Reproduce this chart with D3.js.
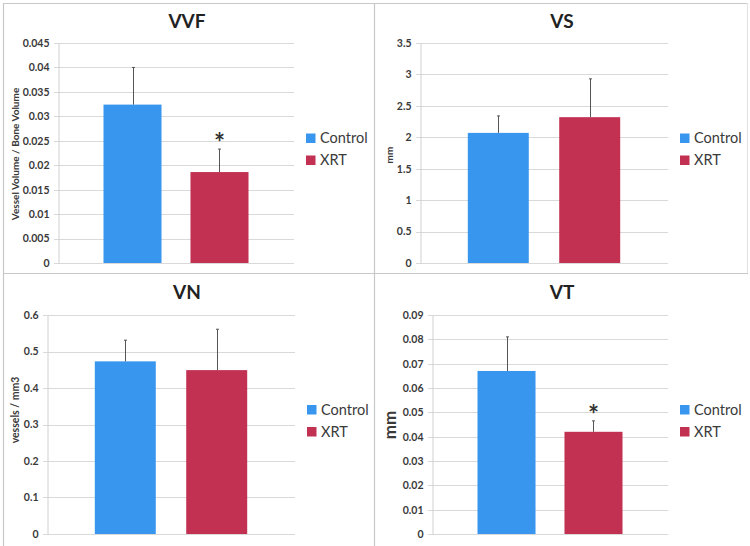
<!DOCTYPE html>
<html><head><meta charset="utf-8">
<script src="https://cdn.jsdelivr.net/npm/d3@7"></script>
<style>
html,body{margin:0;padding:0;background:#fff;}
svg{display:block;font-family:Lato,"Open Sans",sans-serif;}
</style></head>
<body>
<svg id="c" width="750" height="546"></svg>
<script>
// ---- data ----
const panelTitles = ["VVF", "VS", "VN", "VT"];
const groups = ["Control", "XRT"];
const controlMeans = [0.0324, 2.07, 0.473, 0.067];
const controlErrors = [0.0076, 0.27, 0.058, 0.014];
const xrtMeans = [0.0186, 2.32, 0.449, 0.042];
const xrtErrors = [0.0047, 0.61, 0.112, 0.0045];
const xrtSignificant = [true, false, false, true];
const yMaxes = [0.045, 3.5, 0.6, 0.09];
const yTickSteps = [0.005, 0.5, 0.1, 0.01];
const yTitles = ["Vessel Volume / Bone Volume", "mm", "vessels / mm3", "mm"];

// ---- layout ----
const colors = {Control: "#3896EE", XRT: "#C23152"};
const layouts = [
  {ox: 0,   oy: 0,   left: 58,  right: 294, top: 43,  bottom: 263, titleY: 28,  yTitleX: 15,  yTitleY: 154, yTitleSize: 10},
  {ox: 375, oy: 0,   left: 45,  right: 293, top: 43,  bottom: 263, titleY: 28,  yTitleX: 14,  yTitleY: 155, yTitleSize: 10},
  {ox: 0,   oy: 273, left: 47,  right: 295, top: 42,  bottom: 261, titleY: 26,  yTitleX: 15,  yTitleY: 137, yTitleSize: 10.5},
  {ox: 375, oy: 273, left: 57,  right: 293, top: 42,  bottom: 261, titleY: 26,  yTitleX: 14,  yTitleY: 152, yTitleSize: 17}
];

const svg = d3.select("#c");
const textColor = "#3a3a3a";

// frame
const frame = svg.append("g").attr("stroke", "#c8c8c8").attr("stroke-width", 1.2).attr("fill", "none");
frame.append("line").attr("x1", 3).attr("x2", 748).attr("y1", 3.5).attr("y2", 3.5);
frame.append("line").attr("x1", 3.5).attr("x2", 3.5).attr("y1", 3).attr("y2", 546);
frame.append("line").attr("x1", 374.5).attr("x2", 374.5).attr("y1", 3).attr("y2", 546);
frame.append("line").attr("x1", 3).attr("x2", 748).attr("y1", 273.5).attr("y2", 273.5);
frame.append("line").attr("x1", 747.5).attr("x2", 747.5).attr("y1", 3).attr("y2", 273).attr("stroke", "#e4e4e4");

panelTitles.forEach((title, i) => {
  const L = layouts[i];
  const g = svg.append("g").attr("transform", `translate(${L.ox},${L.oy})`);
  const y = d3.scaleLinear().domain([0, yMaxes[i]]).range([L.bottom, L.top]);
  const x = d3.scaleBand().domain(groups).range([L.left, L.right]).paddingInner(0.333).paddingOuter(0.523);
  const step = yTickSteps[i];
  const n = Math.round(yMaxes[i] / step);
  const ticks = d3.range(0, n + 1).map(k => +(k * step).toFixed(6));

  // gridlines
  g.append("g").selectAll("line").data(ticks).join("line")
    .attr("x1", L.left - 4).attr("x2", L.right)
    .attr("y1", d => Math.round(y(d)) + 0.5).attr("y2", d => Math.round(y(d)) + 0.5)
    .attr("stroke", "#d9d9d9").attr("stroke-width", 1);

  // y axis
  const axis = g.append("g").attr("transform", `translate(${L.left + 0.5},0)`)
    .call(d3.axisLeft(y).tickValues(ticks).tickFormat(d3.format("~g")).tickSize(0).tickPadding(9));
  axis.select(".domain").attr("stroke", "#d0d0d0");
  axis.selectAll("text").attr("fill", textColor).attr("font-size", 10.5).attr("font-weight", 700)
    .attr("font-family", "Lato, 'Open Sans', sans-serif");

  // bars
  const means = [controlMeans[i], xrtMeans[i]];
  const errs = [controlErrors[i], xrtErrors[i]];
  const data = groups.map((gname, k) => ({g: gname, v: means[k], e: errs[k]}));
  g.append("g").selectAll("rect").data(data).join("rect")
    .attr("x", d => x(d.g)).attr("width", x.bandwidth())
    .attr("y", d => y(d.v)).attr("height", d => y(0) - y(d.v))
    .attr("fill", d => colors[d.g]);

  // error bars
  const eb = g.append("g").attr("stroke", "#555").attr("stroke-width", 1);
  data.forEach(d => {
    const cx = Math.round(x(d.g) + x.bandwidth() / 2) + 0.5;
    eb.append("line").attr("x1", cx).attr("x2", cx).attr("y1", y(d.v)).attr("y2", y(d.v + d.e));
    eb.append("line").attr("x1", cx - 1.5).attr("x2", cx + 1.5).attr("y1", y(d.v + d.e)).attr("y2", y(d.v + d.e));
  });

  // significance asterisk
  if (xrtSignificant[i]) {
    const d = data[1];
    g.append("text").attr("x", x(d.g) + x.bandwidth() / 2).attr("y", y(d.v + d.e) + 3)
      .attr("text-anchor", "middle").attr("font-size", 26).attr("font-weight", 700)
      .attr("fill", "#333").text("*");
  }

  // title
  g.append("text").attr("x", 187).attr("y", L.titleY).attr("text-anchor", "middle")
    .attr("font-size", 19).attr("font-weight", 700).attr("fill", "#222").text(title);

  // y-axis title
  g.append("text").attr("transform", `translate(${L.yTitleX},${L.yTitleY}) rotate(-90)`)
    .attr("text-anchor", "middle").attr("dominant-baseline", "central")
    .attr("font-size", L.yTitleSize).attr("font-weight", 700).attr("fill", textColor).text(yTitles[i]);

  // legend
  const mid = (L.top + L.bottom) / 2;
  const lg = g.append("g").attr("transform", `translate(${L.right + 12},${mid - 15})`);
  groups.forEach((gname, k) => {
    lg.append("rect").attr("x", 0).attr("y", k * 22 - 4.5).attr("width", 9.5).attr("height", 9.5).attr("fill", colors[gname]);
    lg.append("text").attr("x", 14).attr("y", k * 22 + 5).attr("font-size", 14.5)
      .attr("fill", textColor).text(gname);
  });
});
</script>
</body></html>
